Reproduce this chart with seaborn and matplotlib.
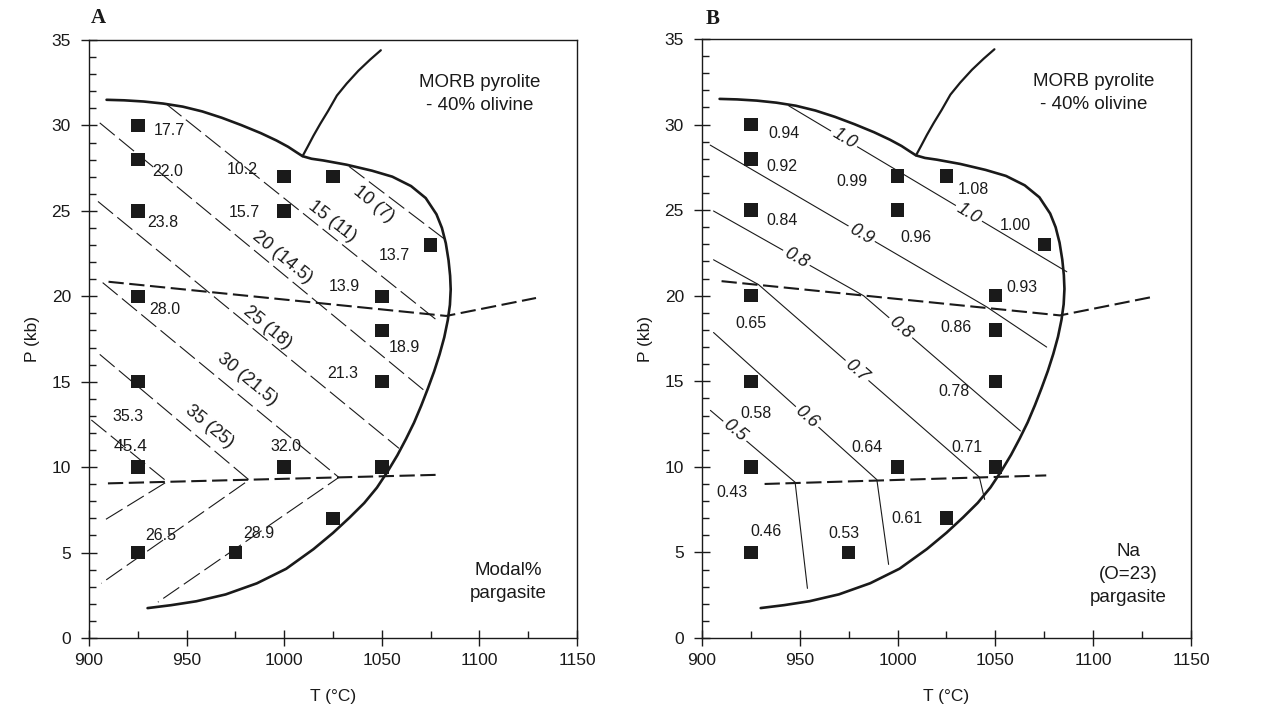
import matplotlib
matplotlib.use("Agg")
import matplotlib.pyplot as plt
import seaborn as sns
import pandas as pd

# ---------------- data ----------------
# experimental run conditions (T in degC, P in kb)
run_T = [925, 925, 925, 925, 925, 925, 925, 975, 1000, 1000, 1000, 1025, 1025, 1050, 1050, 1050, 1050, 1075]
run_P = [30, 28, 25, 20, 15, 10, 5, 5, 27, 25, 10, 27, 7, 20, 18, 15, 10, 23]
modal_pct = ["17.7", "22.0", "23.8", "28.0", "35.3", "45.4", "26.5", "28.9", "10.2", "15.7", "32.0",
             "", "", "13.9", "18.9", "21.3", "", "13.7"]
na_pfu = ["0.94", "0.92", "0.84", "0.65", "0.58", "0.43", "0.46", "0.53", "0.99", "0.96", "0.64",
          "1.08", "0.61", "0.93", "0.86", "0.78", "0.71", "1.00"]

# solidus (thick curve) and upper branch
solidus_T = [909, 918, 928, 938, 948, 958, 968, 978, 988, 996, 1002, 1006, 1009.4, 1014, 1020, 1032,
             1045, 1055.4, 1065, 1072.5, 1078, 1080.8, 1082.8, 1084.2, 1085.0, 1085.3, 1084.9, 1083.8,
             1082.0, 1079.6, 1076.8, 1073.6, 1070.2, 1066.5, 1062.4, 1058, 1053, 1047.5, 1041, 1033.5,
             1025, 1015, 1001, 986, 970, 955, 942, 930]
solidus_P = [31.5, 31.47, 31.4, 31.28, 31.1, 30.82, 30.45, 30.02, 29.55, 29.12, 28.75, 28.45, 28.2,
             28.05, 27.95, 27.7, 27.35, 27.0, 26.45, 25.75, 24.8, 24.0, 23.1, 22.1, 21.2, 20.4, 19.5,
             18.6, 17.6, 16.6, 15.6, 14.6, 13.6, 12.6, 11.65, 10.7, 9.75, 8.8, 7.9, 7.05, 6.15, 5.2,
             4.05, 3.2, 2.55, 2.15, 1.92, 1.75]
branch_T = [1009.4, 1012, 1015, 1018.5, 1022.5, 1027, 1032, 1038, 1044, 1049.5]
branch_P = [28.2, 28.75, 29.4, 30.1, 30.85, 31.75, 32.45, 33.2, 33.85, 34.4]

# phase boundaries (thick dashed)
upper_T = [910, 1083, 1129]
upper_P = [20.85, 18.85, 19.9]
lowerA_T = [909.7, 1078.4]
lowerA_P = [9.05, 9.55]
lowerB_T = [932, 1076]
lowerB_P = [9.0, 9.5]

# panel A: modal % pargasite isopleths
isoA_values = ["10 (7)", "15 (11)", "20 (14.5)", "25 (18)", "30 (21.5)", "35 (25)", "40"]
isoA_T = [[1033.2, 1082.7], [939.6, 1079.3], [905.5, 1071.6], [904.6, 1058.8],
          [907, 1028, 935.3], [905.5, 982, 906.3], [901.2, 940, 908]]
isoA_P = [[27.6, 23.3], [31.25, 18.5], [30.15, 14.5], [25.55, 11.1],
          [20.8, 9.4, 2.1], [16.6, 9.25, 3.2], [12.76, 9.15, 6.9]]

# panel B: Na (O=23) isopleths
isoB_values = ["1.0", "0.9", "0.8", "0.7", "0.6", "0.5"]
isoB_T = [[944.3, 1086.5], [904.2, 1045.5, 1076.2], [905.9, 982.6, 1062.8],
          [905.9, 928.9, 1041.8, 1044.5], [905.9, 989.4, 995.4], [904.3, 947.6, 953.9]]
isoB_P = [[31.1, 21.4], [28.8, 19.35, 17.0], [24.95, 20.0, 12.1],
          [22.1, 20.65, 9.4, 8.1], [17.85, 9.25, 4.3], [13.3, 9.1, 2.9]]

x_ticks = [900, 950, 1000, 1050, 1100, 1150]
y_ticks = [0, 5, 10, 15, 20, 25, 30, 35]

# ---------------- layout (label placement) ----------------
posA = [(940.9, 29.7), (940.4, 27.3), (937.8, 24.3), (938.7, 19.2), (919.9, 12.95), (921.2, 11.2),
        (936.7, 6.0), (986.8, 6.1), (978.7, 27.4), (979.6, 24.9), (1000.9, 11.2), None, None,
        (1030.7, 20.6), (1061.4, 17.0), (1029.9, 15.5), None, (1056.3, 22.4)]
posB = [(941.7, 29.5), (940.9, 27.55), (940.9, 24.4), (925.0, 18.4), (927.4, 13.1), (915.3, 8.5),
        (932.6, 6.25), (972.8, 6.1), (976.7, 26.7), (1009.3, 23.4), (984.3, 11.15), (1038.9, 26.2),
        (1004.8, 6.97), (1063.6, 20.5), (1030.0, 18.15), (1028.6, 14.4), (1035.4, 11.15), (1060.3, 24.1)]
isoA_labels = [(0, 1045.6, 25.4, -39), (1, 1024.4, 24.35, -38), (2, 999.2, 22.3, -39.4),
               (3, 991.5, 18.15, -39.4), (4, 981.0, 15.15, -39.4), (5, 961.7, 12.35, -39.4)]
isoB_labels = [(0, 972.8, 29.2, -31), (0, 1036.4, 24.8, -31), (1, 981.5, 23.6, -30.5),
               (2, 948.2, 22.2, -29), (2, 1001.4, 18.1, -41), (3, 979.0, 15.6, -41),
               (4, 953.6, 12.9, -41.5), (5, 916.9, 12.1, -39.5)]

# ---------------- style ----------------
sns.set_theme(style="ticks")
plt.rcParams["font.family"] = ["Liberation Sans", "DejaVu Sans"]
plt.rcParams["lines.scale_dashes"] = False
INK = "#1a1a1a"

fig = plt.figure(figsize=(12.63, 7.11), dpi=100)
axA = fig.add_axes([89 / 1263, 73 / 711, 488 / 1263, 598 / 711])
axB = fig.add_axes([702 / 1263, 73 / 711, 489 / 1263, 599 / 711])


def draw_line(ax, T, P, lw, dash=None):
    df = pd.DataFrame({"T": T, "P": P})
    sns.lineplot(data=df, x="T", y="P", sort=False, estimator=None, color=INK,
                 linewidth=lw, ax=ax, legend=False)
    line = ax.lines[-1]
    if dash is not None:
        line.set_dashes(dash)
    line.set_solid_joinstyle("round")


def base(ax):
    draw_line(ax, solidus_T, solidus_P, 1.9)
    draw_line(ax, branch_T, branch_P, 1.6)
    draw_line(ax, upper_T, upper_P, 1.5, (11, 4))
    ax.set_xlim(900, 1150)
    ax.set_ylim(0, 35)
    ax.set_xticks(x_ticks)
    ax.set_yticks(y_ticks)
    ax.set_xticks(range(925, 1150, 50), minor=True)
    ax.set_yticks(range(0, 36), minor=True)
    ax.tick_params(which="major", direction="inout", length=12, width=1.0, labelsize=12.5,
                   colors=INK)
    ax.tick_params(which="minor", direction="in", length=5, width=1.0, colors=INK)
    ax.tick_params(axis="x", which="major", pad=5)
    ax.tick_params(axis="y", which="major", pad=7)
    for s in ax.spines.values():
        s.set_linewidth(1.0)
        s.set_color(INK)
    ax.set_xlabel("T (°C)", fontsize=12.5, labelpad=15, color=INK)
    ax.set_ylabel("P (kb)", fontsize=12.5, labelpad=8, color=INK)
    ax.text(1100, 31.85, "MORB pyrolite\n- 40% olivine", ha="center", va="center",
            fontsize=13.5, linespacing=1.45, color=INK)


# ---------- panel A ----------
base(axA)
draw_line(axA, lowerA_T, lowerA_P, 1.5, (11, 4))
for T, P in zip(isoA_T, isoA_P):
    draw_line(axA, T, P, 0.8, (14, 4))
for i, x, y, r in isoA_labels:
    axA.text(x, y, isoA_values[i], rotation=r, rotation_mode="anchor", ha="center", va="center",
             fontsize=13, color=INK)
sns.scatterplot(x=run_T, y=run_P, marker="s", s=95, color=INK, edgecolor="none", ax=axA,
                legend=False, zorder=5)
for lab, pos in zip(modal_pct, posA):
    if lab and pos is not None:
        axA.text(pos[0], pos[1], lab, ha="center", va="center",
                 fontsize=12.5 if lab == "45.4" else 11.5, color=INK)
axA.text(1115, 3.3, "Modal%\npargasite", ha="center", va="center", fontsize=13.5,
         linespacing=1.45, color=INK)

# ---------- panel B ----------
base(axB)
draw_line(axB, lowerB_T, lowerB_P, 1.5, (11, 4))
for T, P in zip(isoB_T, isoB_P):
    draw_line(axB, T, P, 0.8)
for i, x, y, r in isoB_labels:
    axB.text(x, y, isoB_values[i], rotation=r, rotation_mode="anchor", ha="center", va="center",
             fontsize=13, style="italic", color=INK,
             bbox=dict(boxstyle="square,pad=0.15", fc="white", ec="none"), zorder=4)
sns.scatterplot(x=run_T, y=run_P, marker="s", s=95, color=INK, edgecolor="none", ax=axB,
                legend=False, zorder=5)
for lab, pos in zip(na_pfu, posB):
    if lab and pos is not None:
        axB.text(pos[0], pos[1], lab, ha="center", va="center", fontsize=11.5, color=INK)
axB.text(1118, 3.7, "Na\n(O=23)\npargasite", ha="center", va="center", fontsize=13.5,
         linespacing=1.45, color=INK)

# panel letters
fig.text(98 / 1263, 1 - 18 / 711, "A", ha="center", va="center", fontsize=15,
         fontweight="bold", family="Liberation Serif", color=INK)
fig.text(713 / 1263, 1 - 19 / 711, "B", ha="center", va="center", fontsize=15,
         fontweight="bold", family="Liberation Serif", color=INK)

fig.savefig("out.png", dpi=100)
